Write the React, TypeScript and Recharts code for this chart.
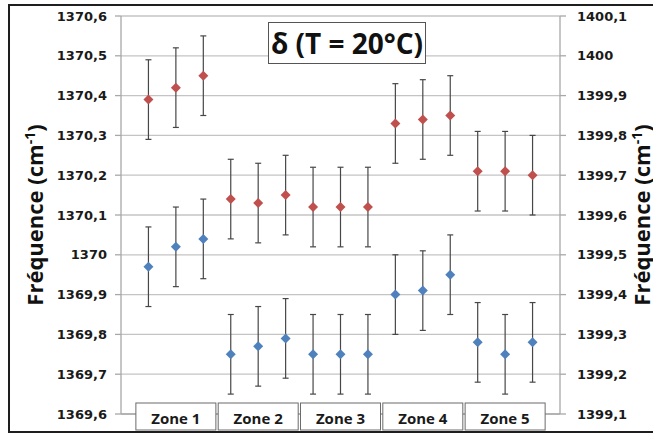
import React from 'react';
import {
  ComposedChart, Scatter, ErrorBar, XAxis, YAxis, CartesianGrid,
} from 'recharts';

// positions 1..15, three measurements per zone
const zoneLabels = ['Zone 1', 'Zone 2', 'Zone 3', 'Zone 4', 'Zone 5'];
const zoneTicks = [2, 5, 8, 11, 14];

const leftTicks = [1369.6, 1369.7, 1369.8, 1369.9, 1370, 1370.1, 1370.2, 1370.3, 1370.4, 1370.5, 1370.6];
const rightTicks = [1399.1, 1399.2, 1399.3, 1399.4, 1399.5, 1399.6, 1399.7, 1399.8, 1399.9, 1400, 1400.1];

// zones 1-3 read on the left axis, zones 4-5 on the right axis
const redLeftX = [1, 2, 3, 4, 5, 6, 7, 8, 9];
const redLeftY = [1370.39, 1370.42, 1370.45, 1370.14, 1370.13, 1370.15, 1370.12, 1370.12, 1370.12];
const blueLeftY = [1369.97, 1370.02, 1370.04, 1369.75, 1369.77, 1369.79, 1369.75, 1369.75, 1369.75];

const rightX = [10, 11, 12, 13, 14, 15];
const redRightY = [1399.83, 1399.84, 1399.85, 1399.71, 1399.71, 1399.70];
const blueRightY = [1399.40, 1399.41, 1399.45, 1399.28, 1399.25, 1399.28];

const errValue = 0.1;

const RED = '#C0504D';
const BLUE = '#4F81BD';
const GRID = '#c4c4c4';

const toPoints = (xs: number[], ys: number[]) => xs.map((x, i) => ({ x, y: ys[i], err: errValue }));

const redLeft = toPoints(redLeftX, redLeftY);
const blueLeft = toPoints(redLeftX, blueLeftY);
const redRight = toPoints(rightX, redRightY);
const blueRight = toPoints(rightX, blueRightY);

const fmt = (v: number) => (Math.round(v * 10) / 10).toString().replace('.', ',');

const diamond = (color: string) => (props: any) => {
  const { cx, cy } = props;
  const r = 5;
  return <path d={`M${cx},${cy - r}L${cx + r},${cy}L${cx},${cy + r}L${cx - r},${cy}Z`} fill={color} />;
};

const ZoneTick = (props: any) => {
  const { x, y, payload } = props;
  const label = zoneLabels[zoneTicks.indexOf(payload.value)];
  return (
    <g>
      <rect x={x - 40} y={y - 11} width={80} height={27} fill="#fff" stroke="#6b6b6b" strokeWidth={1} />
      <text x={x} y={y + 10} textAnchor="middle" fontFamily="'Open Sans', sans-serif" fontWeight={700} fontSize={15} fill="#1a1a1a">
        {label}
      </text>
    </g>
  );
};

const axisTitle = (x: number) => (
  <text
    x={x}
    y={215}
    transform={`rotate(-90 ${x} 215)`}
    textAnchor="middle"
    fontFamily="'Open Sans', sans-serif"
    fontWeight={700}
    fontSize={22}
    fill="#111"
  >
    Fréquence (cm<tspan dy={-8} fontSize={14}>-1</tspan><tspan dy={8}>)</tspan>
  </text>
);

const tickStyle = { fontFamily: "'DejaVu Sans', sans-serif", fontWeight: 700, fontSize: 13, fill: '#1a1a1a' };

export default function App() {
  return (
    <div style={{ position: 'fixed', left: 0, top: 0, width: 653, height: 434, overflow: 'hidden', background: '#fff' }}>
      <div style={{
        position: 'absolute', left: 8, top: 4, width: 680, height: 429,
        border: '2px solid #1e1e1e', boxSizing: 'border-box',
      }} />
      <ComposedChart width={653} height={434} margin={{ top: 16, right: 0, bottom: 0, left: 0 }}>
        <CartesianGrid vertical={false} yAxisId="left" stroke={GRID} strokeWidth={1.3} />
        <XAxis
          type="number"
          dataKey="x"
          domain={[0, 16]}
          ticks={zoneTicks}
          interval={0}
          height={20}
          tickSize={0}
          tickMargin={0}
          tickLine={false}
          axisLine={{ stroke: '#a8a8a8', strokeWidth: 1.3 }}
          tick={<ZoneTick />}
        />
        <YAxis
          yAxisId="left"
          orientation="left"
          type="number"
          domain={[1369.6, 1370.6]}
          ticks={leftTicks}
          interval={0}
          width={121}
          tickSize={6}
          tickMargin={8}
          tickFormatter={fmt}
          tick={tickStyle}
          axisLine={{ stroke: '#a8a8a8', strokeWidth: 1.3 }}
          tickLine={{ stroke: '#a8a8a8', strokeWidth: 1.3 }}
          label={{ content: () => axisTitle(43) }}
        />
        <YAxis
          yAxisId="right"
          orientation="right"
          type="number"
          domain={[1399.1, 1400.1]}
          ticks={rightTicks}
          interval={0}
          width={93}
          tickSize={6}
          tickMargin={11}
          tickFormatter={fmt}
          tick={tickStyle}
          axisLine={{ stroke: '#a8a8a8', strokeWidth: 1.3 }}
          tickLine={{ stroke: '#a8a8a8', strokeWidth: 1.3 }}
          label={{ content: () => axisTitle(650) }}
        />
        <Scatter data={redLeft} yAxisId="left" dataKey="y" shape={diamond(RED)} isAnimationActive={false}>
          <ErrorBar dataKey="err" direction="y" width={3} stroke="#474747" strokeWidth={1.2} />
        </Scatter>
        <Scatter data={blueLeft} yAxisId="left" dataKey="y" shape={diamond(BLUE)} isAnimationActive={false}>
          <ErrorBar dataKey="err" direction="y" width={3} stroke="#474747" strokeWidth={1.2} />
        </Scatter>
        <Scatter data={redRight} yAxisId="right" dataKey="y" shape={diamond(RED)} isAnimationActive={false}>
          <ErrorBar dataKey="err" direction="y" width={3} stroke="#474747" strokeWidth={1.2} />
        </Scatter>
        <Scatter data={blueRight} yAxisId="right" dataKey="y" shape={diamond(BLUE)} isAnimationActive={false}>
          <ErrorBar dataKey="err" direction="y" width={3} stroke="#474747" strokeWidth={1.2} />
        </Scatter>
      </ComposedChart>
      <div style={{
        position: 'absolute', left: 268, top: 22, width: 158, height: 42,
        boxSizing: 'border-box', border: '1px solid #555', background: '#fff',
        fontFamily: "'Open Sans', sans-serif", fontWeight: 700, fontSize: 28, color: '#111',
        display: 'flex', alignItems: 'center', justifyContent: 'center', whiteSpace: 'nowrap',
      }}>
        δ (T = 20°C)
      </div>
    </div>
  );
}
